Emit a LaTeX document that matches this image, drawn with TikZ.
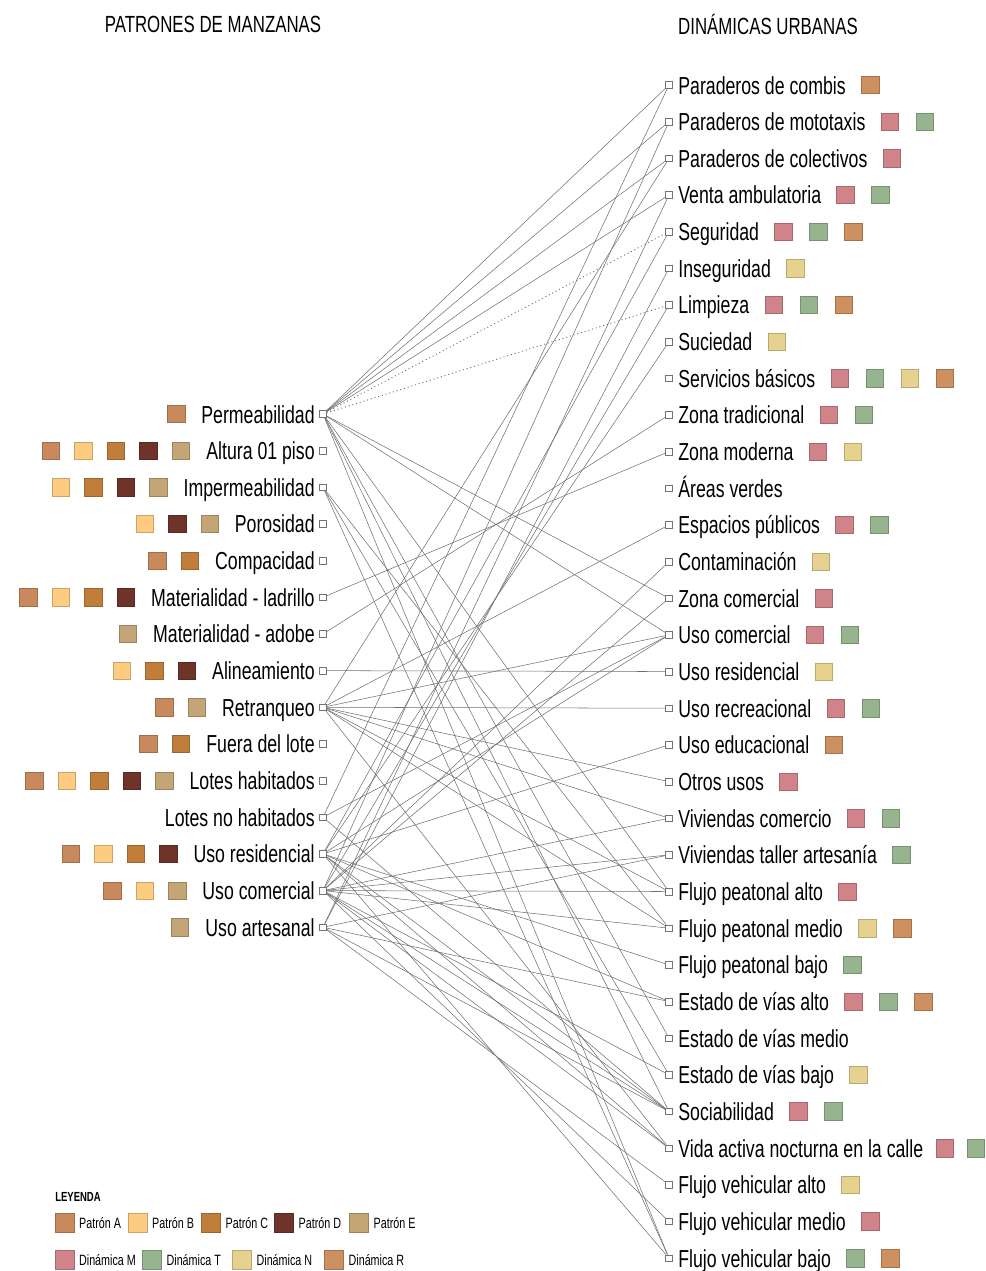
\documentclass[tikz,border=0pt]{standalone}
\usepackage{fontspec}
\setmainfont{Liberation Sans}[FakeStretch=0.72]
\usetikzlibrary{calc,positioning}

\definecolor{patA}{RGB}{200,137,92}
\definecolor{patB}{RGB}{253,204,128}
\definecolor{patC}{RGB}{192,126,58}
\definecolor{patD}{RGB}{110,52,42}
\definecolor{patE}{RGB}{196,165,118}
\definecolor{dinM}{RGB}{208,132,137}
\definecolor{dinT}{RGB}{150,181,143}
\definecolor{dinN}{RGB}{230,210,142}
\definecolor{dinR}{RGB}{205,144,96}
\definecolor{linea}{RGB}{110,110,110}

\tikzset{
  port/.style={draw=black!55, fill=white, line width=0.3pt, minimum size=1.3mm, inner sep=0pt},
  swatch/.style={draw=#1!80!black, fill=#1, line width=0.3pt, minimum size=3.5mm, inner sep=0pt},
  item/.style={font=\fontsize{14}{16}\selectfont, inner sep=0pt},
  head/.style={font=\fontsize{13.3}{15}\selectfont, inner sep=0pt},
  legtext/.style={font=\fontsize{8.5}{10}\selectfont, inner sep=0pt},
  link/.style={draw=linea, line width=0.3pt},
}

\begin{document}
\begin{tikzpicture}[x=0.2mm,y=-0.2mm]
  \useasboundingbox (0,0) rectangle (986,1271);

  \node[head] (hpat) at (213,24) {PATRONES DE MANZANAS};
  \node[head] (hdin) at (768,24) {DINÁMICAS URBANAS};

  % patrones (colours listed right to left)
  \foreach \t/\cs [count=\i from 0] in {
      Permeabilidad/{patA},
      Altura 01 piso/{patE,patD,patC,patB,patA},
      Impermeabilidad/{patE,patD,patC,patB},
      Porosidad/{patE,patD,patB},
      Compacidad/{patC,patA},
      Materialidad - ladrillo/{patD,patC,patB,patA},
      Materialidad - adobe/{patE},
      Alineamiento/{patD,patC,patB},
      Retranqueo/{patE,patA},
      Fuera del lote/{patC,patA},
      Lotes habitados/{patE,patD,patC,patB,patA},
      Lotes no habitados/{},
      Uso residencial/{patD,patC,patB,patA},
      Uso comercial/{patE,patB,patA},
      Uso artesanal/{patE}} {
    \node[port] (p\i) at (323,{414+36.66*\i}) {};
    \node[item,anchor=base east] (pt\i) at (315,{423+36.66*\i}) {\t};
    \if\relax\detokenize\expandafter{\cs}\relax\else
      \foreach \c [count=\k] in \cs
        \node[swatch=\c] at ($(pt\i.west |- p\i)+({-25-32.5*(\k-1)},0)$) {};
    \fi
  }

  % dinamicas
  \foreach \t/\cs [count=\i from 0] in {
      Paraderos de combis/{dinR},
      Paraderos de mototaxis/{dinM,dinT},
      Paraderos de colectivos/{dinM},
      Venta ambulatoria/{dinM,dinT},
      Seguridad/{dinM,dinT,dinR},
      Inseguridad/{dinN},
      Limpieza/{dinM,dinT,dinR},
      Suciedad/{dinN},
      Servicios básicos/{dinM,dinT,dinN,dinR},
      Zona tradicional/{dinM,dinT},
      Zona moderna/{dinM,dinN},
      Áreas verdes/{},
      Espacios públicos/{dinM,dinT},
      Contaminación/{dinN},
      Zona comercial/{dinM},
      Uso comercial/{dinM,dinT},
      Uso residencial/{dinN},
      Uso recreacional/{dinM,dinT},
      Uso educacional/{dinR},
      Otros usos/{dinM},
      Viviendas comercio/{dinM,dinT},
      Viviendas taller artesanía/{dinT},
      Flujo peatonal alto/{dinM},
      Flujo peatonal medio/{dinN,dinR},
      Flujo peatonal bajo/{dinT},
      Estado de vías alto/{dinM,dinT,dinR},
      Estado de vías medio/{},
      Estado de vías bajo/{dinN},
      Sociabilidad/{dinM,dinT},
      Vida activa nocturna en la calle/{dinM,dinT},
      Flujo vehicular alto/{dinN},
      Flujo vehicular medio/{dinM},
      Flujo vehicular bajo/{dinT,dinR}} {
    \node[port] (d\i) at (669,{85+36.66*\i}) {};
    \node[item,anchor=base west] (dt\i) at (678,{94+36.66*\i}) {\t};
    % the long row near the edge is set tighter
    \ifnum\i=29 \def\gap{21}\def\pitch{31}\else\def\gap{24}\def\pitch{35}\fi
    \if\relax\detokenize\expandafter{\cs}\relax\else
      \foreach \c [count=\k] in \cs
        \node[swatch=\c] at ($(dt\i.east |- d\i)+({\gap+\pitch*(\k-1)},0)$) {};
    \fi
  }

  % relaciones
  \foreach \a/\b in {0/0,0/1,0/2,0/3,0/14,0/15,0/22,0/26,0/28,0/32,
      2/23,2/27,2/32, 5/10, 6/9, 7/16,
      8/2,8/12,8/15,8/17,8/19,8/20,8/22,8/23,8/29,
      11/0,11/15,11/28,
      12/4,12/7,12/15,12/18,12/24,12/25,12/28,12/29,12/32,
      13/1,13/6,13/13,13/14,13/20,13/21,13/22,13/23,13/27,13/28,13/29,13/31,
      14/3,14/5,14/21,14/25,14/28,14/30}
    \draw[link] (p\a) -- (d\b);
  \draw[link,line width=0.5pt,dash pattern=on 0.6pt off 1.6pt] (p0) -- (d4);
  \draw[link,line width=0.5pt,dash pattern=on 0.6pt off 1.6pt] (p0) -- (d6);

  % leyenda
  \node[legtext,font=\bfseries\fontsize{7.5}{9}\selectfont,anchor=west] (ley) at (55,1197) {LEYENDA};
  \foreach \c/\t/\x/\y in {patA/Patrón A/64.5/1223, patB/Patrón B/137.5/1223,
      patC/Patrón C/211/1223, patD/Patrón D/284/1223, patE/Patrón E/359/1223,
      dinM/Dinámica M/64.5/1260, dinT/Dinámica T/152/1260,
      dinN/Dinámica N/242/1260, dinR/Dinámica R/334/1260} {
    \node[swatch=\c,minimum size=3.8mm] (l\c) at (\x,\y) {};
    \node[legtext,right=0.9mm of l\c] (lt\c) {\t};
  }
\end{tikzpicture}
\end{document}
